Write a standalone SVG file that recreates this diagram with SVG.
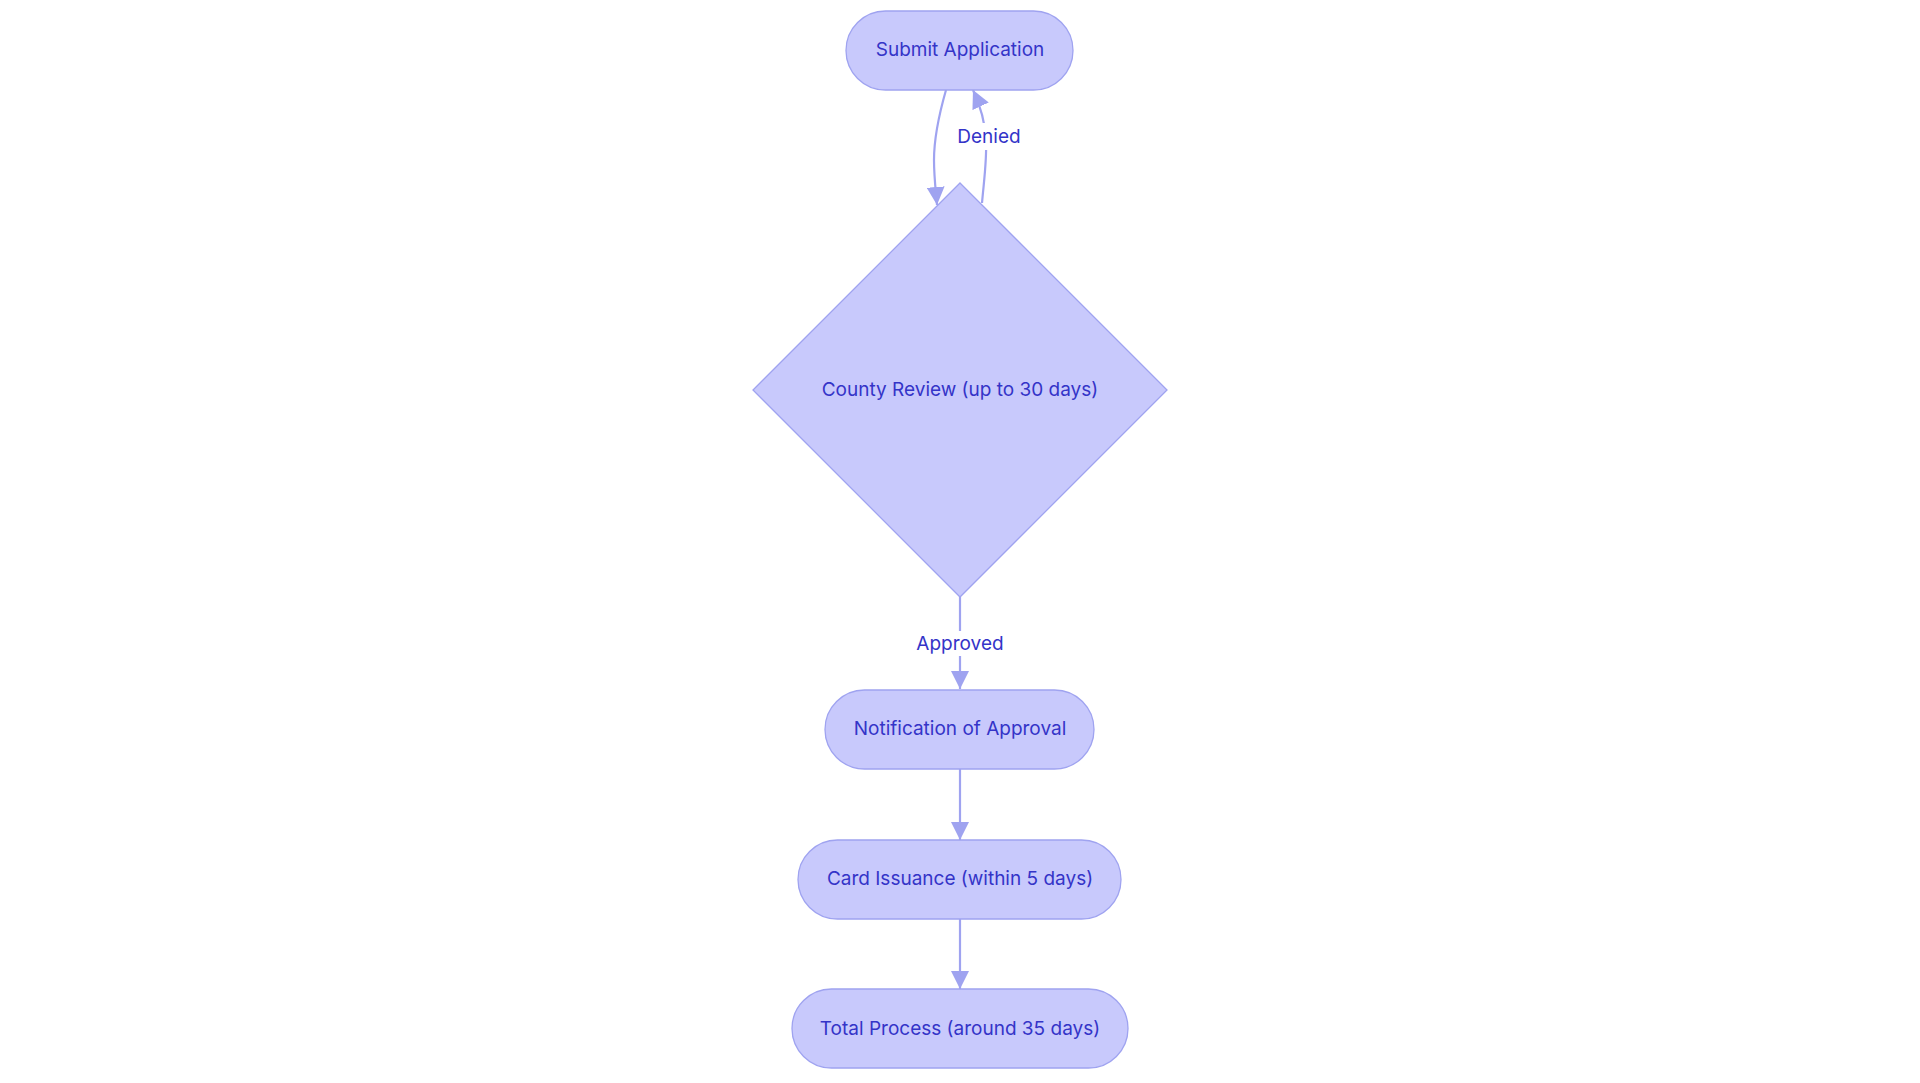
<svg xmlns="http://www.w3.org/2000/svg" width="1920" height="1083" viewBox="0 0 1920 1083">
<style>
.node{fill:#c8c9fc;stroke:#9fa3f0;stroke-width:1.3}
.lbl{font-family:Inter,"Open Sans","Liberation Sans",sans-serif;font-size:19px;fill:#3434c8;text-anchor:middle;dominant-baseline:central}
.edge{fill:none;stroke:#9fa3f0;stroke-width:2.2}
.ebg{fill:#ffffff}
</style>
<defs>
<marker id="arr" viewBox="0 0 10 10" refX="10" refY="5" markerUnits="userSpaceOnUse" markerWidth="18" markerHeight="18" orient="auto">
<path d="M0,0 L10,5 L0,10 z" fill="#9fa3f0"/>
</marker>
</defs>
<rect width="1920" height="1083" fill="#ffffff"/>
<g id="connectors">
<path class="edge" d="M946,90 C938,118 934,140 934,160 C934,178 936,192 937,205" marker-end="url(#arr)"/>
<path class="edge" d="M982,203 C984,180 987,160 986,140 C985,120 980,105 973,90" marker-end="url(#arr)"/>
<path class="edge" d="M960,597 L960,689" marker-end="url(#arr)"/>
<path class="edge" d="M960,769 L960,840" marker-end="url(#arr)"/>
<path class="edge" d="M960,919 L960,989" marker-end="url(#arr)"/>
<g id="label-denied">
<rect class="ebg" x="958" y="123" width="62" height="27"/>
<text class="lbl" x="989" y="136">Denied</text>
</g>
<g id="label-approved">
<rect class="ebg" x="917" y="631" width="87" height="25"/>
<text class="lbl" x="960" y="643">Approved</text>
</g>
</g>
<g id="submit">
<rect class="node" x="846" y="11" width="227" height="79" rx="39.5" ry="39.5"/>
<text class="lbl" x="960" y="49">Submit Application</text>
</g>
<g id="review">
<polygon class="node" points="960,183 1167,390 960,597 753,390"/>
<text class="lbl" x="960" y="389">County Review (up to 30 days)</text>
</g>
<g id="notify">
<rect class="node" x="825" y="690" width="269" height="79" rx="39.5" ry="39.5"/>
<text class="lbl" x="960" y="728">Notification of Approval</text>
</g>
<g id="card">
<rect class="node" x="798" y="840" width="323" height="79" rx="39.5" ry="39.5"/>
<text class="lbl" x="960" y="878">Card Issuance (within 5 days)</text>
</g>
<g id="total">
<rect class="node" x="792" y="989" width="336" height="79" rx="39.5" ry="39.5"/>
<text class="lbl" x="960" y="1028">Total Process (around 35 days)</text>
</g>
</svg>
